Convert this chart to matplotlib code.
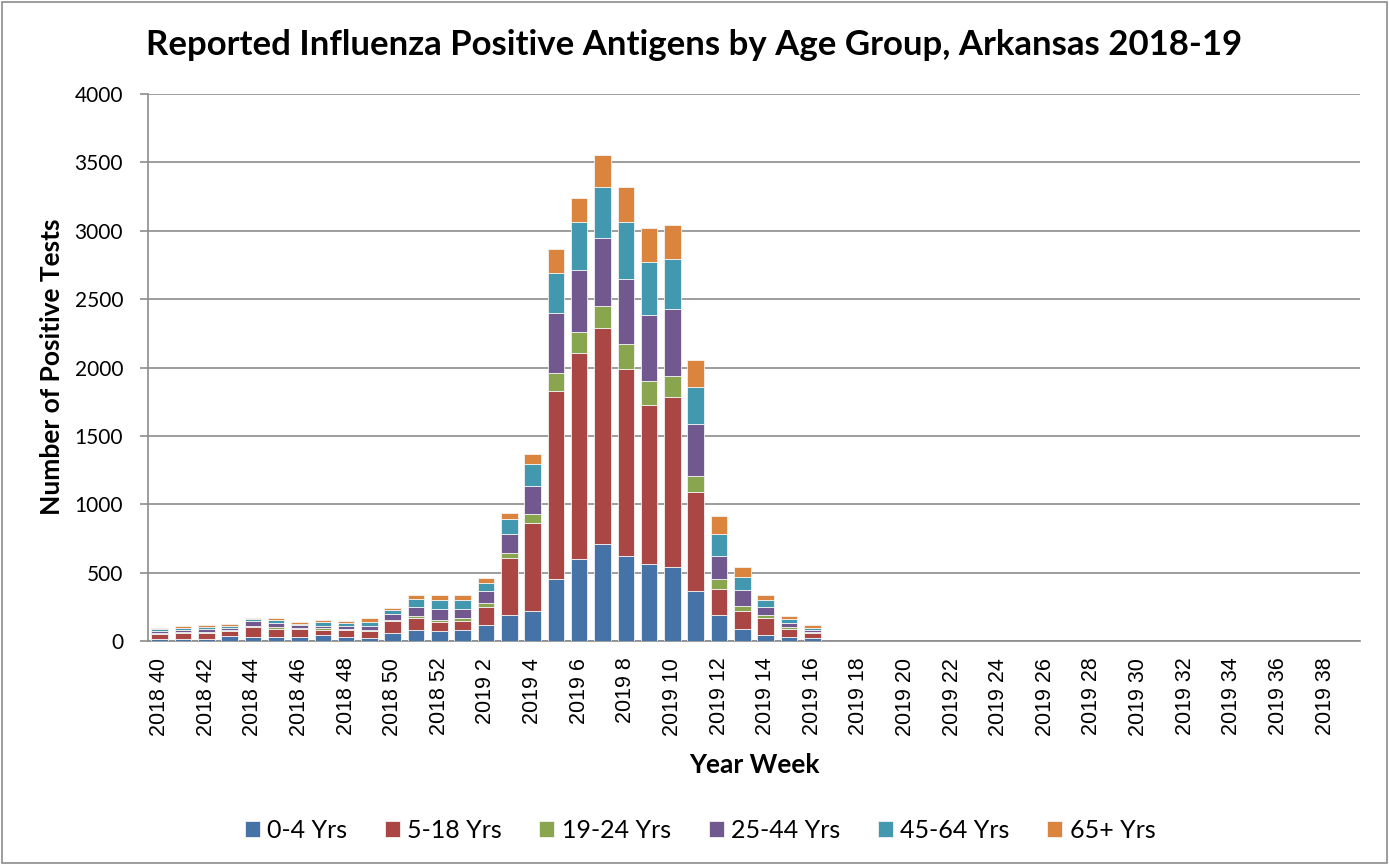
import numpy as np
import matplotlib.pyplot as plt
from matplotlib.patches import Rectangle

# weeks 2018 40 .. 2019 39
weeks = ['2018 %d' % w for w in range(40, 53)] + ['2019 %d' % w for w in range(1, 40)]

age_groups = ['0-4 Yrs', '5-18 Yrs', '19-24 Yrs', '25-44 Yrs', '45-64 Yrs', '65+ Yrs']
colors = ['#4572A7', '#AA4643', '#89A54E', '#71588F', '#4198AF', '#DB843D']

zeros = [0] * 23
yrs_0_4 = [17, 15, 17, 39, 32, 29, 29, 42, 29, 24, 59, 83, 73,
           83, 114, 190, 221, 457, 598, 706, 618, 560, 540, 365, 192, 90, 44, 32, 24] + zeros
yrs_5_18 = [37, 46, 42, 32, 68, 62, 62, 39, 52, 50, 88, 86, 68,
            65, 137, 416, 643, 1370, 1511, 1581, 1370, 1165, 1246, 725, 190, 131, 121, 53, 37] + zeros
yrs_19_24 = [5, 5, 7, 7, 8, 9, 2, 12, 7, 7, 10, 17, 12,
             23, 29, 34, 63, 132, 151, 163, 185, 173, 151, 117, 71, 34, 22, 17, 5] + zeros
yrs_25_44 = [17, 17, 22, 18, 39, 32, 22, 20, 22, 29, 39, 64, 79,
             66, 85, 139, 204, 440, 453, 496, 474, 484, 489, 379, 167, 115, 59, 27, 14] + zeros
yrs_45_64 = [10, 13, 12, 17, 12, 20, 12, 24, 20, 30, 29, 54, 67,
             66, 61, 114, 166, 292, 348, 377, 414, 392, 365, 275, 163, 95, 53, 34, 17] + zeros
yrs_65 = [12, 12, 15, 14, 12, 19, 10, 20, 17, 27, 18, 34, 41,
          37, 38, 44, 68, 175, 177, 232, 260, 243, 253, 197, 134, 75, 39, 17, 17] + zeros

series = [yrs_0_4, yrs_5_18, yrs_19_24, yrs_25_44, yrs_45_64, yrs_65]

W, H = 1389, 865
fig = plt.figure(figsize=(W / 100, H / 100), dpi=100)
ax = fig.add_axes([148 / W, 1 - 641 / H, (1360 - 148) / W, (641 - 94) / H])

x = np.arange(len(weeks))
bottom = np.zeros(len(weeks))
handles = []
for vals, lab, col in zip(series, age_groups, colors):
    vals = np.array(vals, dtype=float)
    b = ax.bar(x, vals, 0.71, bottom=bottom, color=col, edgecolor='#f2f2f2',
               linewidth=0.6, label=lab, zorder=3)
    handles.append(b)
    bottom += vals

ax.set_xlim(-0.5, len(weeks) - 0.5)
ax.set_ylim(0, 4000)
ax.set_yticks(np.arange(0, 4001, 500))
ax.yaxis.grid(True, color='#8c8c8c', linewidth=1.2, zorder=0)
ax.set_axisbelow(True)

ax.set_xticks(x[::2])
ax.set_xticklabels(weeks[::2], rotation=90, fontsize=15.5, family='Liberation Sans')
ax.tick_params(axis='x', length=0, pad=12)
ax.tick_params(axis='y', length=6, color='#8c8c8c', width=1.2, labelsize=15, pad=12)
for t in ax.get_yticklabels():
    t.set_family('Lato')

for s in ['top', 'right']:
    ax.spines[s].set_visible(False)
for s in ['left', 'bottom']:
    ax.spines[s].set_color('#8c8c8c')
    ax.spines[s].set_linewidth(1.2)

fig.text(0.5, 1 - 45 / H, 'Reported Influenza Positive Antigens by Age Group, Arkansas 2018-19',
         ha='center', va='center', fontsize=25, fontweight='bold', family='Lato')
fig.text(52 / W, 1 - 367 / H, 'Number of Positive Tests', rotation=90, ha='center', va='center',
         fontsize=19, fontweight='bold', family='Lato')
fig.text(754 / W, 1 - 765 / H, 'Year Week', ha='center', va='center',
         fontsize=19, fontweight='bold', family='Lato')

fig.legend(handles=handles, loc='center', bbox_to_anchor=(700 / W, 1 - 830 / H), ncol=6,
           frameon=False, prop={'family': 'Lato', 'size': 18}, handlelength=0.6,
           handleheight=0.6, handletextpad=0.3, columnspacing=1.5)

fig.patches.append(Rectangle((2 / W, 2 / H), (W - 4) / W, (H - 4) / H, transform=fig.transFigure,
                             fill=False, edgecolor='#8c8c8c', linewidth=1.2))

plt.savefig('out.png', dpi=100)
plt.close()
